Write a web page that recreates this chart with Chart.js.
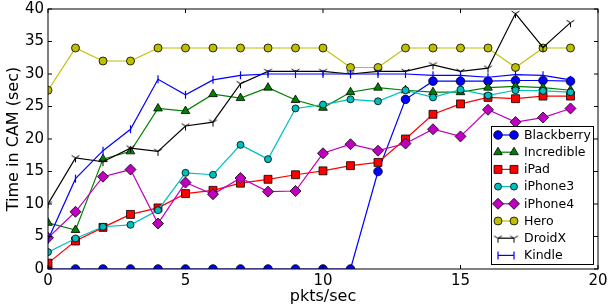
<!DOCTYPE html>
<html>
<head>
<meta charset="utf-8">
<script src="https://cdn.jsdelivr.net/npm/chart.js@4/dist/chart.umd.min.js"></script>
<style>
  html, body { margin: 0; padding: 0; background: #fff; }
  #wrap { width: 608px; height: 307px; }
</style>
</head>
<body>
<div id="wrap"><canvas id="myChart"></canvas></div>
<script>
var pkts = [0, 1, 2, 3, 4, 5, 6, 7, 8, 9, 10, 11, 12, 13, 14, 15, 16, 17, 18, 19];

var blackberry = [0, 0, 0, 0, 0, 0, 0, 0, 0, 0, 0, 0, 15, 26.1, 28.9, 28.9, 28.9, 29, 29, 28.9];
var incredible = [7.1, 6, 16.9, 18.1, 24.7, 24.3, 26.9, 26.3, 27.9, 26, 24.8, 27.2, 27.9, 27.5, 27.2, 27.2, 27.9, 28.1, 27.9, 27.5];
var ipad = [0.9, 4.3, 6.4, 8.4, 9.4, 11.6, 12.1, 13.2, 13.8, 14.5, 15.1, 15.9, 16.4, 20, 23.8, 25.4, 26.4, 26.2, 26.6, 26.6];
var iphone3 = [2.6, 4.7, 6.5, 6.8, 9.05, 14.8, 14.5, 19.1, 16.9, 24.7, 25.3, 26.1, 25.8, 27.5, 26.4, 27.6, 26.7, 27.5, 27.4, 27.2];
var iphone4 = [4.8, 8.8, 14.2, 15.3, 7, 13.3, 11.5, 14, 11.9, 12, 17.8, 19.2, 18.2, 19.3, 21.5, 20.4, 24.5, 22.6, 23.3, 24.7];
var hero = [27.5, 34, 32, 32, 34, 34, 34, 34, 34, 34, 34, 31, 31, 34, 34, 34, 34, 31, 34, 34];
var droidx = [10, 17.1, 16.5, 18.6, 18.1, 22, 22.6, 28.5, 30.4, 30.4, 30.4, 30, 30.4, 30.4, 31.4, 30.4, 30.9, 39.3, 34.1, 37.9];
var kindle = [4.5, 13.9, 18.2, 21.5, 29.2, 26.8, 29.1, 29.8, 30, 30, 30, 30, 30, 30, 29.8, 29.8, 29.5, 29.9, 29.8, 29.1];

var names = ["Blackberry", "Incredible", "iPad", "iPhone3", "iPhone4", "Hero", "DroidX", "Kindle"];
var series = [blackberry, incredible, ipad, iphone3, iphone4, hero, droidx, kindle];
var xTicks = [0, 5, 10, 15, 20];
var yTicks = [0, 5, 10, 15, 20, 25, 30, 35, 40];

var colors = ["#0000ff", "#008000", "#ff0000", "#00bfbf", "#bf00bf", "#bfbf00", "#000000", "#0000ff"];
var markers = ["circle", "triangle", "rect", "circle", "rectRot", "circle", "tri", "vline"];
var radii = [4.3, 5, 5.6, 3.5, 5.5, 4, 4, 4];

// tri_down marker for DroidX
function triCanvas() {
  var c = document.createElement("canvas");
  c.width = 11; c.height = 11;
  var g = c.getContext("2d");
  g.strokeStyle = "#000"; g.lineWidth = 1;
  g.beginPath();
  g.moveTo(5.5, 5.5); g.lineTo(5.5, 10);
  g.moveTo(5.5, 5.5); g.lineTo(1.6, 3.2);
  g.moveTo(5.5, 5.5); g.lineTo(9.4, 3.2);
  g.stroke();
  return c;
}
var triImg = triCanvas();

var datasets = [];
for (var i = 0; i < series.length; i++) {
  var pts = [];
  for (var j = 0; j < pkts.length; j++) pts.push({x: pkts[j], y: series[i][j]});
  var style = markers[i];
  datasets.push({
    label: names[i],
    data: pts,
    borderColor: colors[i],
    borderWidth: 1.2,
    backgroundColor: colors[i],
    pointBackgroundColor: colors[i],
    pointBorderColor: (style == "vline") ? colors[i] : "#000",
    pointBorderWidth: (style == "vline") ? 1.2 : 0.8,
    pointStyle: style == "tri" ? triImg : (style == "vline" ? "line" : style),
    pointRotation: style == "vline" ? 90 : 0,
    pointRadius: radii[i],
    tension: 0,
    clip: 0,
    order: series.length - i
  });
}

function drawMarker(ctx, style, x, y, r, color) {
  ctx.save();
  ctx.fillStyle = color;
  ctx.strokeStyle = "#000";
  ctx.lineWidth = 0.8;
  ctx.beginPath();
  if (style == "circle") {
    ctx.arc(x, y, r, 0, Math.PI * 2);
  } else if (style == "rect") {
    var s = r * Math.SQRT1_2;
    ctx.rect(x - s, y - s, 2 * s, 2 * s);
  } else if (style == "rectRot") {
    ctx.moveTo(x, y - r); ctx.lineTo(x + r, y); ctx.lineTo(x, y + r); ctx.lineTo(x - r, y); ctx.closePath();
  } else if (style == "triangle") {
    ctx.moveTo(x, y - r); ctx.lineTo(x + r * 0.866, y + r * 0.5); ctx.lineTo(x - r * 0.866, y + r * 0.5); ctx.closePath();
  } else if (style == "tri") {
    ctx.drawImage(triImg, x - 5.5, y - 5.5);
    ctx.restore();
    return;
  } else if (style == "vline") {
    ctx.strokeStyle = color; ctx.lineWidth = 1.2;
    ctx.moveTo(x, y - r); ctx.lineTo(x, y + r);
    ctx.stroke();
    ctx.restore();
    return;
  }
  ctx.fill();
  ctx.stroke();
  ctx.restore();
}

var framePlugin = {
  id: "frame",
  afterDatasetsDraw: function(chart) {
    var ctx = chart.ctx, a = chart.chartArea;
    var xs = chart.scales.x, ys = chart.scales.y;
    ctx.save();
    ctx.strokeStyle = "#000";
    ctx.lineWidth = 1;
    ctx.strokeRect(a.left, a.top, a.right - a.left, a.bottom - a.top);
    ctx.beginPath();
    for (var i = 0; i < xTicks.length; i++) {
      var px = xs.getPixelForValue(xTicks[i]);
      ctx.moveTo(px, a.bottom); ctx.lineTo(px, a.bottom - 4);
      ctx.moveTo(px, a.top); ctx.lineTo(px, a.top + 4);
    }
    for (var k = 0; k < yTicks.length; k++) {
      var py = ys.getPixelForValue(yTicks[k]);
      ctx.moveTo(a.left, py); ctx.lineTo(a.left + 4, py);
      ctx.moveTo(a.right, py); ctx.lineTo(a.right - 4, py);
    }
    ctx.stroke();

    // legend box, lower right inside the plot
    var bx = 491, by = 126, bw = 102, bh = 138;
    ctx.fillStyle = "#fff";
    ctx.fillRect(bx, by, bw, bh);
    ctx.strokeRect(bx + 0.5, by + 0.5, bw, bh);
    ctx.font = "12.5px 'DejaVu Sans'";
    ctx.textBaseline = "middle";
    for (var n = 0; n < names.length; n++) {
      var ly = 135 + n * 17.2;
      ctx.strokeStyle = colors[n];
      ctx.lineWidth = 1.2;
      ctx.beginPath();
      ctx.moveTo(498, ly); ctx.lineTo(514, ly);
      ctx.stroke();
      drawMarker(ctx, markers[n], 498, ly, radii[n], colors[n]);
      drawMarker(ctx, markers[n], 514, ly, radii[n], colors[n]);
      ctx.fillStyle = "#000";
      ctx.fillText(names[n], 524, ly + 0.5);
    }
    ctx.restore();
  }
};

Chart.defaults.font.family = "'DejaVu Sans'";
Chart.defaults.color = "#000";

new Chart("myChart", {
  type: "line",
  data: { datasets: datasets },
  plugins: [framePlugin],
  options: {
    responsive: true,
    maintainAspectRatio: false,
    animation: false,
    devicePixelRatio: 1,
    layout: { padding: { left: 0, right: 10, top: 9, bottom: 0 } },
    plugins: { legend: { display: false }, tooltip: { enabled: false } },
    scales: {
      x: {
        type: "linear",
        min: 0, max: 20,
        grid: { display: false, drawTicks: false },
        border: { display: false },
        ticks: { stepSize: 5, padding: 3, font: { size: 15 }, maxRotation: 0 },
        title: { display: true, text: "pkts/sec", font: { size: 16 }, padding: { top: 0, bottom: 1 } },
        afterFit: function(s) { s.height = 38; s.paddingLeft = 0; s.paddingRight = 0; }
      },
      y: {
        min: 0, max: 40,
        grid: { display: false, drawTicks: false },
        border: { display: false },
        ticks: { stepSize: 5, padding: 4, font: { size: 15 } },
        title: { display: true, text: "Time in CAM (sec)", font: { size: 16 }, padding: { top: 4, bottom: 0 } },
        afterFit: function(s) { s.width = 48; s.paddingTop = 0; s.paddingBottom = 0; }
      }
    }
  }
});
</script>
</body>
</html>
